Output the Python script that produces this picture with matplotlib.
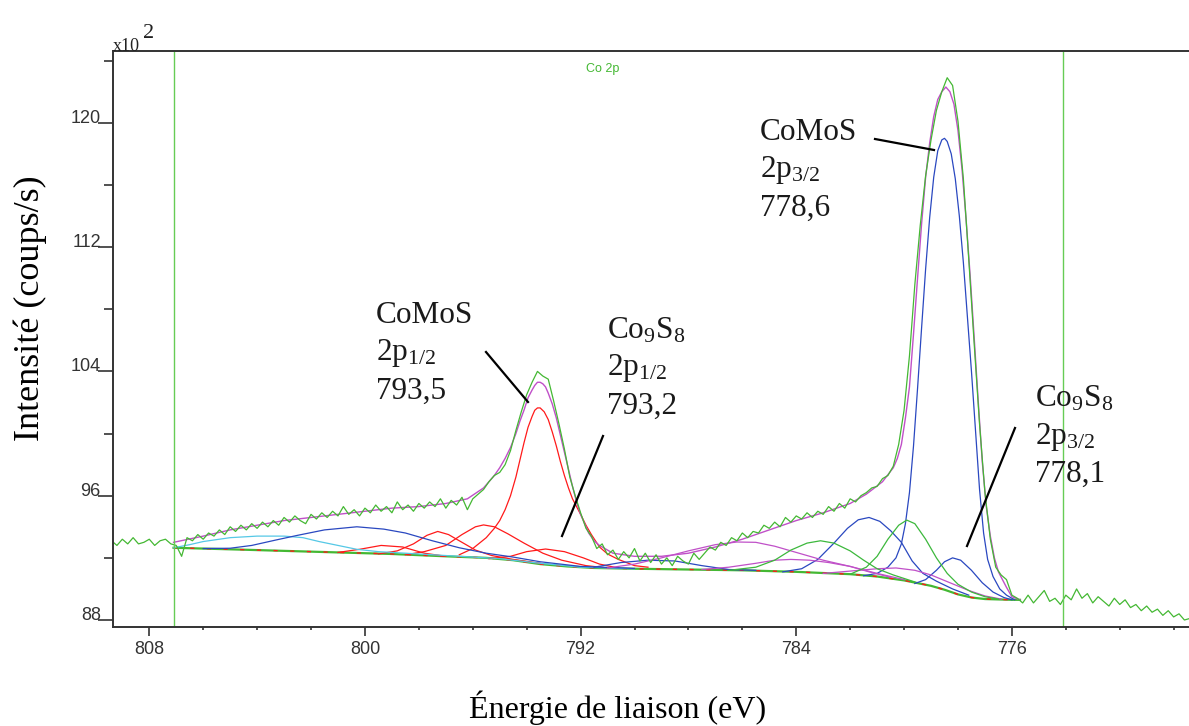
# -*- coding: utf-8 -*-
"""
Spectre XPS Co 2p : décomposition CoMoS / Co9S8
"""

import numpy as np
import matplotlib
matplotlib.use("Agg")
import matplotlib.pyplot as plt
from matplotlib.lines import Line2D
from matplotlib.ticker import MultipleLocator, FixedLocator

plt.rcParams['mathtext.fontset'] = 'custom'
plt.rcParams['mathtext.rm'] = 'Liberation Serif'
plt.rcParams['mathtext.it'] = 'Liberation Serif:italic'

# 1. Données (intensité en x10^2 coups/s)

# spectre mesuré, pas de 0,2 eV de 809,4 à 769,4 eV
energie = np.round(np.arange(809.4, 769.3, -0.2), 1)
intensite = [
    93.1, 92.8, 93.2, 92.9, 93.3, 92.9, 93.0, 93.2, 92.8, 93.1,
    93.2, 92.9, 92.8, 92.1, 93.3, 93.1, 93.5, 93.2, 93.6, 93.4,
    93.8, 93.5, 94.0, 93.7, 94.1, 93.8, 94.2, 93.9, 94.3, 94.0,
    94.4, 94.1, 94.6, 94.3, 94.7, 94.4, 94.2, 94.8, 94.5, 94.9,
    94.6, 95.0, 94.7, 95.3, 94.8, 95.1, 94.7, 95.2, 94.9, 95.4,
    95.0, 95.3, 94.9, 95.6, 95.1, 95.4, 95.0, 95.5, 95.2, 95.6,
    95.3, 95.8, 95.2, 95.7, 95.4, 95.9, 95.1, 95.8, 96.1, 96.4,
    96.9, 97.3, 97.5, 98.0, 98.9, 100.2, 101.4, 102.5, 103.3, 104.0,
    103.7, 103.5, 102.1, 100.6, 99.0, 97.2, 96.0, 94.9, 93.9, 93.4,
    92.6, 92.9, 92.2, 92.5, 91.9, 92.4, 92.0, 92.6, 91.8, 92.3,
    91.7, 92.2, 91.6, 92.0, 91.5, 92.1, 91.8, 91.6, 92.3, 91.9,
    92.3, 92.7, 92.5, 93.0, 92.8, 93.3, 93.1, 93.6, 93.3, 93.7,
    93.6, 94.1, 93.9, 94.3, 94.0, 94.6, 94.3, 94.7, 94.5, 94.9,
    94.6, 95.0, 94.8, 95.3, 95.0, 95.5, 95.2, 95.8, 95.6, 96.0,
    96.2, 96.5, 96.6, 97.1, 97.3, 97.9, 99.3, 101.5, 105.0, 109.6,
    113.4, 116.6, 118.9, 120.8, 122.0, 122.9, 122.4, 120.1, 116.4, 111.2,
    105.8, 100.6, 96.2, 93.2, 91.4, 90.9, 90.6, 89.6, 89.4, 89.1,
    89.6, 89.1, 89.5, 89.9, 89.2, 89.4, 89.0, 89.6, 89.3, 90.0,
    89.4, 89.7, 89.1, 89.5, 89.2, 88.9, 89.4, 89.0, 89.3, 88.8,
    89.0, 88.6, 88.9, 88.5, 88.7, 88.3, 88.6, 88.2, 88.4, 88.0,
    88.1,
]

# enveloppe de l'ajustement
env_e = [807.1, 806.0, 805.0, 804.0, 803.0, 802.0, 801.0, 800.0, 799.0, 798.0,
         797.0, 796.2, 795.6, 795.2, 795.0, 794.8, 794.6, 794.4, 794.25, 794.1,
         793.95, 793.8, 793.7, 793.6, 793.5, 793.4, 793.3, 793.2, 793.05, 792.9,
         792.75, 792.6, 792.45, 792.3, 792.15, 792.0, 791.85, 791.7, 791.5, 791.3,
         790.8, 790.0, 789.0, 788.0, 787.0, 786.0, 785.0, 784.0, 783.0, 782.0,
         781.4, 780.8, 780.4, 780.25, 780.1, 779.95, 779.8, 779.65, 779.5, 779.35,
         779.2, 779.05, 778.9, 778.75, 778.6, 778.45, 778.3, 778.15, 778.0, 777.85,
         777.7, 777.55, 777.4, 777.25, 777.1, 776.95, 776.8, 776.65, 776.5, 776.2,
         776.0, 775.7]
env_y = [93.0, 93.4, 93.8, 94.1, 94.4, 94.6, 94.8, 95.0, 95.2, 95.3,
         95.5, 95.8, 96.5, 97.3, 97.8, 98.4, 99.1, 100.0, 100.8, 101.5,
         102.3, 102.8, 103.1, 103.3, 103.3, 103.2, 103.0, 102.6, 101.9, 101.0,
         99.9, 98.8, 97.7, 96.6, 95.6, 94.8, 94.2, 93.6, 93.1, 92.8,
         92.3, 92.1, 92.1, 92.3, 92.7, 93.2, 93.8, 94.4, 94.9, 95.5,
         96.1, 96.9, 97.8, 98.4, 99.3, 101.0, 103.0, 106.4, 110.0, 113.5,
         116.5, 118.7, 120.4, 121.5, 122.0, 122.3, 122.0, 121.2, 119.5, 117.0,
         113.8, 110.2, 106.2, 102.1, 98.2, 95.3, 93.4, 92.0, 91.1, 90.1,
         89.5, 89.3]

# fond de Shirley
fond_e = [807.1, 805.0, 803.0, 801.0, 799.0, 797.0, 795.5, 794.5, 793.5, 792.5,
          791.5, 790.0, 788.0, 786.0, 784.0, 782.0, 781.0, 780.0, 779.0, 778.5,
          778.0, 777.5, 777.0, 776.0, 775.7]
fond_y = [92.65, 92.55, 92.45, 92.35, 92.25, 92.1, 92.0, 91.85, 91.6, 91.45,
          91.35, 91.3, 91.25, 91.2, 91.1, 90.95, 90.8, 90.55, 90.2, 89.95,
          89.65, 89.45, 89.35, 89.3, 89.3]

# composantes rouges (Co 2p1/2)
rouge_a_e = [801.0, 800.2, 799.4, 798.6, 797.8, 797.0]
rouge_a_y = [92.35, 92.55, 92.8, 92.7, 92.3, 92.1]
rouge_b_e = [799.5, 798.8, 798.2, 797.7, 797.3, 796.9, 796.4, 795.9, 795.3, 794.5, 793.5]
rouge_b_y = [92.25, 92.45, 92.9, 93.45, 93.7, 93.5, 93.0, 92.5, 92.15, 91.9, 91.65]
rouge_c_e = [798.5, 797.8, 797.0, 796.4, 795.9, 795.6, 795.2, 794.7, 794.1, 793.4,
             792.7, 791.8, 791.0]
rouge_c_y = [92.2, 92.4, 92.8, 93.5, 94.0, 94.12, 94.0, 93.55, 92.95, 92.3,
             91.85, 91.5, 91.35]
rouge_d_e = [796.5, 796.0, 795.5, 795.2, 795.0, 794.8, 794.6, 794.4, 794.25, 794.1,
             793.95, 793.8, 793.7, 793.6, 793.5, 793.35, 793.2, 793.05, 792.9, 792.75,
             792.6, 792.45, 792.3, 792.15, 792.0, 791.8, 791.6, 791.3, 791.0, 790.6,
             790.0, 789.5]
rouge_d_y = [92.2, 92.6, 93.3, 93.9, 94.4, 95.1, 96.0, 97.2, 98.3, 99.4,
             100.4, 101.1, 101.5, 101.65, 101.65, 101.4, 100.9, 100.1, 99.2, 98.2,
             97.3, 96.5, 95.8, 95.3, 94.8, 94.1, 93.5, 92.7, 92.25, 91.9,
             91.5, 91.4]
rouge_e_e = [795.4, 794.6, 794.0, 793.3, 792.6, 791.9, 791.3, 790.6]
rouge_e_y = [91.95, 92.1, 92.4, 92.57, 92.4, 92.0, 91.6, 91.35]

# composantes larges (satellites)
cyan_e = [807.1, 806.5, 806.0, 805.0, 804.0, 803.0, 802.3, 801.7, 801.0, 800.3,
          799.5, 798.5, 797.0, 795.0, 793.5, 792.0, 790.0]
cyan_y = [92.65, 92.85, 93.05, 93.3, 93.4, 93.4, 93.3, 93.05, 92.8, 92.55,
          92.4, 92.3, 92.15, 91.95, 91.65, 91.4, 91.3]
bleu_a_e = [806.0, 805.0, 804.2, 803.3, 802.5, 801.5, 800.3, 799.3, 798.5, 797.5,
            796.5, 795.5, 794.5, 793.5, 792.0, 790.0]
bleu_a_y = [92.6, 92.62, 92.8, 93.15, 93.45, 93.8, 94.0, 93.85, 93.6, 93.1,
            92.65, 92.3, 92.05, 91.75, 91.45, 91.32]
bleu_b_e = [791.5, 790.5, 789.5, 788.5, 787.5, 786.5, 785.5]
bleu_b_y = [91.4, 91.7, 91.85, 91.8, 91.5, 91.25, 91.2]

# composantes Co 2p3/2
mag_a_e = [791.0, 790.0, 789.0, 788.0, 787.0, 786.2, 785.5, 784.8, 784.0, 783.0,
           782.0, 781.0, 780.0]
mag_a_y = [91.35, 91.6, 92.0, 92.45, 92.85, 93.02, 93.0, 92.75, 92.35, 91.85,
           91.45, 91.0, 90.6]
mag_b_e = [787.5, 786.5, 785.5, 784.8, 784.2, 783.5, 782.8, 782.0, 781.3, 780.5]
mag_b_y = [91.25, 91.4, 91.65, 91.85, 91.9, 91.85, 91.7, 91.45, 91.1, 90.75]
mag_c_e = [783.0, 782.0, 781.0, 780.3, 779.6, 779.0, 778.3, 777.6, 777.0, 776.4]
mag_c_y = [91.0, 91.15, 91.3, 91.35, 91.2, 90.9, 90.4, 89.9, 89.55, 89.35]
vert_a_e = [786.5, 785.5, 784.8, 784.2, 783.6, 783.1, 782.6, 782.0, 781.5, 781.0,
            780.4, 779.6]
vert_a_y = [91.2, 91.4, 91.85, 92.5, 92.95, 93.1, 92.95, 92.45, 91.85, 91.3,
            90.9, 90.45]
bleu_c_e = [784.5, 783.8, 783.2, 782.6, 782.1, 781.7, 781.3, 780.9, 780.5, 780.1,
            779.7, 779.3, 778.8, 778.2, 777.6]
bleu_c_y = [91.1, 91.3, 91.9, 92.95, 93.9, 94.45, 94.6, 94.35, 93.75, 93.0,
            91.8, 91.0, 90.5, 90.0, 89.6]
vert_b_e = [782.0, 781.4, 781.0, 780.6, 780.2, 779.9, 779.6, 779.2, 778.8, 778.4,
            778.0, 777.5, 777.0, 776.5]
vert_b_y = [90.95, 91.4, 92.1, 93.2, 94.1, 94.43, 94.2, 93.2, 92.0, 91.0,
            90.3, 89.8, 89.5, 89.35]
bleu_d_e = [781.5, 781.0, 780.6, 780.3, 780.1, 779.95, 779.8, 779.65, 779.5, 779.35,
            779.2, 779.05, 778.9, 778.75, 778.6, 778.5, 778.4, 778.25, 778.1, 777.95,
            777.8, 777.65, 777.5, 777.35, 777.2, 777.05, 776.9, 776.7, 776.45, 776.2,
            775.9]
bleu_d_y = [90.85, 91.0, 91.4, 92.0, 92.9, 94.2, 96.2, 99.2, 102.9, 106.8,
            110.6, 113.9, 116.5, 118.2, 118.9, 119.0, 118.8, 118.0, 116.4, 114.0,
            111.0, 107.5, 104.0, 100.2, 96.4, 93.6, 91.9, 90.8, 90.0, 89.6,
            89.3]
bleu_e_e = [779.6, 779.2, 778.8, 778.5, 778.2, 777.9, 777.5, 777.1, 776.7, 776.3, 776.0]
bleu_e_y = [90.35, 90.6, 91.2, 91.75, 92.0, 91.85, 91.2, 90.4, 89.8, 89.45, 89.3]

# bornes de l'ajustement
bornes = [807.1, 774.1]

# annotations : lignes de texte et position (pixels)
etiquettes = [
    (["CoMoS", r"2p$_{\mathrm{1/2}}$", "793,5"], 376, 316),
    ([r"Co$_{\mathrm{9}}$S$_{\mathrm{8}}$", r"2p$_{\mathrm{1/2}}$", "793,2"], 607, 331),
    (["CoMoS", r"2p$_{\mathrm{3/2}}$", "778,6"], 760, 133),
    ([r"Co$_{\mathrm{9}}$S$_{\mathrm{8}}$", r"2p$_{\mathrm{3/2}}$", "778,1"], 1035, 399),
]
traits = [
    ((486, 352), (528, 402)),
    ((603, 436), (562, 536)),
    ((875, 139), (934, 150)),
    ((1015, 428), (967, 546)),
]

# 2. Couleurs
VERT = '#44b833'
ROUGE = '#ff1a1a'
BLEU = '#2a48c0'
MAGENTA = '#c050c8'
CYAN = '#55c8e6'
VERT_C = '#3cb83c'

W, H = 1189, 726

# 3. Figure
fig = plt.figure(figsize=(W / 100, H / 100), dpi=100)
ax = fig.add_axes([113.3 / W, 1 - 626.7 / H, 1075.7 / W, 575.7 / H])

ax.plot(fond_e, fond_y, color=VERT, lw=1.6)
ax.plot(fond_e, fond_y, color=ROUGE, lw=1.0, dashes=(3, 9))

for e, y in [(rouge_a_e, rouge_a_y), (rouge_b_e, rouge_b_y), (rouge_c_e, rouge_c_y),
             (rouge_d_e, rouge_d_y), (rouge_e_e, rouge_e_y)]:
    ax.plot(e, y, color=ROUGE, lw=0.9)
ax.plot(cyan_e, cyan_y, color=CYAN, lw=0.9)
for e, y in [(bleu_a_e, bleu_a_y), (bleu_b_e, bleu_b_y), (bleu_c_e, bleu_c_y),
             (bleu_d_e, bleu_d_y), (bleu_e_e, bleu_e_y)]:
    ax.plot(e, y, color=BLEU, lw=0.9)
for e, y in [(mag_a_e, mag_a_y), (mag_b_e, mag_b_y), (mag_c_e, mag_c_y)]:
    ax.plot(e, y, color=MAGENTA, lw=0.9)
for e, y in [(vert_a_e, vert_a_y), (vert_b_e, vert_b_y)]:
    ax.plot(e, y, color=VERT_C, lw=0.9)

ax.plot(env_e, env_y, color=MAGENTA, lw=1.0)
ax.plot(energie, intensite, color=VERT, lw=0.9)

for b in bornes:
    ax.axvline(b, color='#66cc55', lw=1.0)

ax.text(0.455, 0.968, "Co 2p", transform=ax.transAxes, color='#44b833',
        fontsize=9, family='Liberation Sans', ha='center', va='center')

# axes
ax.set_xlim(809.335, 769.43)
ax.set_ylim(87.57, 124.62)
ax.xaxis.set_major_locator(FixedLocator([808, 800, 792, 784, 776]))
ax.xaxis.set_minor_locator(MultipleLocator(2))
ax.yaxis.set_major_locator(FixedLocator([88, 96, 104, 112, 120]))
ax.yaxis.set_minor_locator(FixedLocator([92, 100, 108, 116, 124]))
ax.tick_params(axis='x', which='major', direction='out', length=6.5, width=1.2,
               color='#333333', labelsize=13, labelcolor='#333333', pad=4)
ax.tick_params(axis='x', which='minor', direction='out', length=2.5, width=1.2,
               color='#333333')
ax.tick_params(axis='y', which='major', direction='out', length=10.5, width=1.2,
               color='#333333', labelsize=13, labelcolor='#333333', pad=-1.5)
ax.tick_params(axis='y', which='minor', direction='out', length=6.5, width=1.2,
               color='#333333')
for lab in ax.get_xticklabels() + ax.get_yticklabels():
    lab.set_family('Liberation Sans')
for lab in ax.get_yticklabels():
    lab.set_verticalalignment('baseline')

for s in ['left', 'bottom', 'top']:
    ax.spines[s].set_color('#333333')
    ax.spines[s].set_linewidth(1.4)
ax.spines['right'].set_visible(False)

# titres des axes
fig.text(30 / W, 1 - 308 / H, "Intensité (coups/s)", rotation=90,
         family='Liberation Serif', fontsize=26, ha='center', va='center')
fig.text(618 / W, 1 - 708 / H, "Énergie de liaison (eV)",
         family='Liberation Serif', fontsize=23, ha='center', va='center')

# facteur d'échelle
fig.text(113 / W, 1 - 51 / H, "x10", family='Liberation Serif', fontsize=13,
         ha='left', va='baseline', color='#222222')
fig.text(143 / W, 1 - 38 / H, "2", family='Liberation Serif', fontsize=16,
         ha='left', va='baseline', color='#222222')

# annotations
for lignes, x0, y0 in etiquettes:
    for k, t in enumerate(lignes):
        fig.text(x0 / W, 1 - (y0 + 37.5 * k) / H, t, family='Liberation Serif',
                 fontsize=22.5, ha='left', va='center', color='#1a1a1a')
for (x1, y1), (x2, y2) in traits:
    fig.add_artist(Line2D([x1 / W, x2 / W], [1 - y1 / H, 1 - y2 / H],
                          transform=fig.transFigure, color='black', lw=1.6))

fig.savefig("out.png", dpi=100)
